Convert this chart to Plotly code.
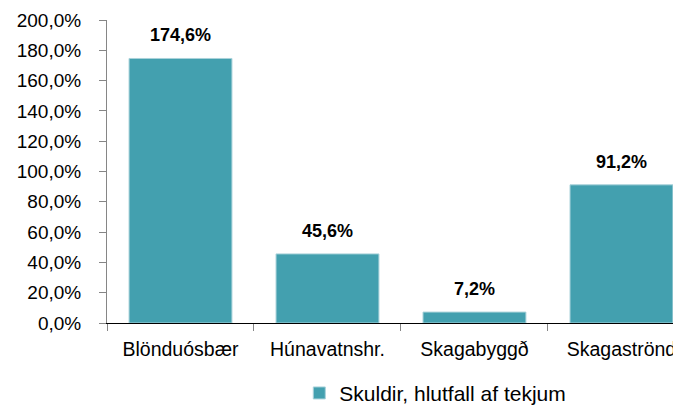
import plotly.graph_objects as go

categories = ["Blönduósbær", "Húnavatnshr.", "Skagabyggð", "Skagaströnd"]
values = [174.6, 45.6, 7.2, 91.2]
labels = ["174,6%", "45,6%", "7,2%", "91,2%"]
series_name = "Skuldir, hlutfall af tekjum"
ytick_vals = [0, 20, 40, 60, 80, 100, 120, 140, 160, 180, 200]
ytick_text = ["0,0%", "20,0%", "40,0%", "60,0%", "80,0%", "100,0%", "120,0%",
              "140,0%", "160,0%", "180,0%", "200,0%"]

FONT = "Liberation Sans, Arial, sans-serif"

fig = go.Figure()
fig.add_trace(go.Bar(
    x=categories, y=values, name=series_name,
    marker=dict(color="#43A0AF", line=dict(color="#A9D2DA", width=1)),
    width=0.7,
))

for c, v, t in zip(categories, values, labels):
    fig.add_annotation(x=c, y=v, text="<b>" + t + "</b>", showarrow=False,
                       yanchor="bottom", yshift=11,
                       font=dict(family=FONT, size=18, color="#000000"))

# page body has an 8px default margin; the figure is sized to fit the window
fig.update_layout(
    width=673, height=399,
    margin=dict(l=99, r=0, t=12, b=84, autoexpand=False),
    paper_bgcolor="white", plot_bgcolor="white",
    font=dict(family=FONT, size=18, color="#000000"),
    showlegend=True,
    legend=dict(orientation="h", x=0.335, xanchor="left", y=-0.232, yanchor="middle",
                bgcolor="rgba(0,0,0,0)", itemwidth=30,
                font=dict(family=FONT, size=21, color="#000000")),
    bargap=0.3,
)
fig.update_xaxes(
    type="category", range=[-0.5, 3.405], automargin=False,
    showline=True, linecolor="#000000", linewidth=1,
    ticks="outside", tickson="boundaries", ticklen=7, tickcolor="#868686",
    ticklabelstandoff=9,
    tickfont=dict(family=FONT, size=19.5, color="#000000"),
    showgrid=False,
)
fig.update_yaxes(
    range=[0, 200], tickvals=ytick_vals, ticktext=ytick_text, automargin=False,
    showline=True, linecolor="#868686", linewidth=1,
    ticks="outside", ticklen=7, tickcolor="#868686",
    ticklabelstandoff=14,
    tickfont=dict(family=FONT, size=19, color="#000000"),
    showgrid=False, zeroline=False,
)

fig.write_html("out.html")
